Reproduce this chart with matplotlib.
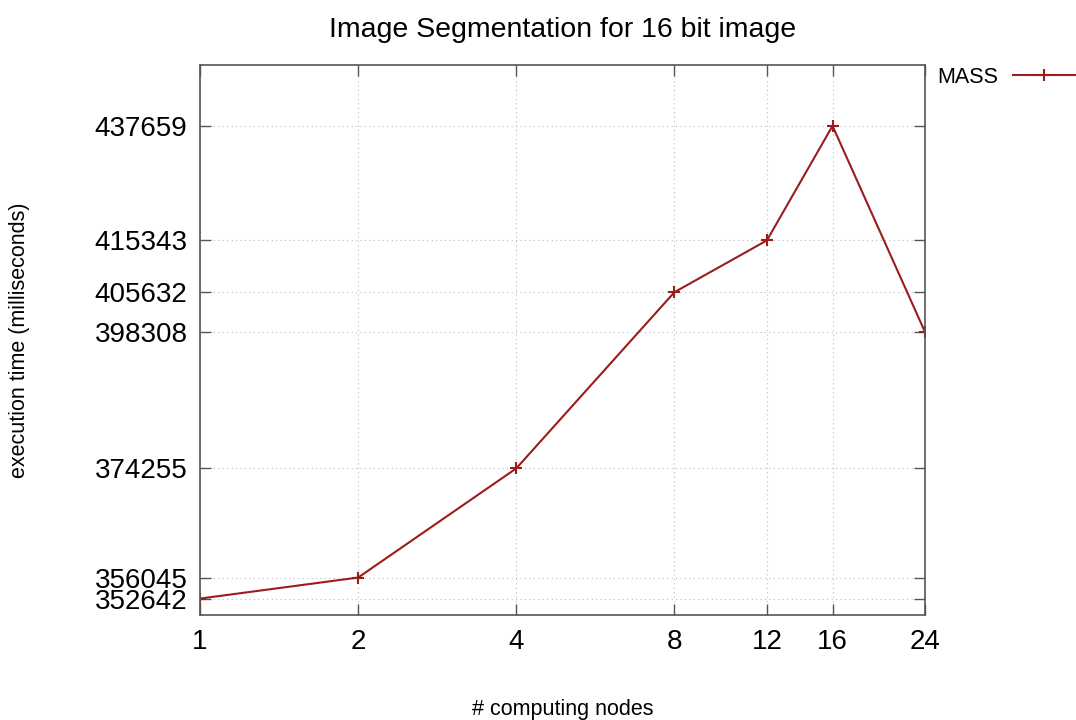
import matplotlib
matplotlib.use("Agg")
import matplotlib.pyplot as plt
from matplotlib.ticker import FixedLocator, NullLocator

plt.rcParams['font.family'] = ['Liberation Sans', 'DejaVu Sans']

## data
nodes = [1, 2, 4, 8, 12, 16, 24]
exec_time = [352642, 356045, 374255, 405632, 415343, 437659, 398308]

line_color = '#9b1c1c'

fig = plt.figure(figsize=(10.76, 7.2), dpi=100)
ax = fig.add_axes([0.1859, 0.1458, 0.6738, 0.7639])

ax.plot(nodes, exec_time, color=line_color, lw=1.5, marker='+',
        markersize=9, markeredgewidth=1.5, label='MASS')

ax.set_xscale('log')
ax.set_yscale('log')
ax.set_xlim(1, 24)
ax.set_ylim(350000, 450000)

ax.xaxis.set_major_locator(FixedLocator(nodes))
ax.xaxis.set_minor_locator(NullLocator())
ax.set_xticklabels([str(n) for n in nodes])
ax.yaxis.set_major_locator(FixedLocator(sorted(exec_time)))
ax.yaxis.set_minor_locator(NullLocator())
ax.set_yticklabels([str(v) for v in sorted(exec_time)])

ax.tick_params(direction='in', length=8, width=1, color='#555555',
               labelsize=20, top=True, right=True, pad=10)
ax.tick_params(axis='y', pad=9)

ax.grid(True, linestyle=(0, (1, 3)), color='#bbbbbb', lw=0.8)
for s in ax.spines.values():
    s.set_color('#555555')
    s.set_linewidth(1.2)

ax.set_title('Image Segmentation for 16 bit image', fontsize=20.5, pad=20)
ax.set_xlabel('# computing nodes', fontsize=15.5)
ax.set_ylabel('execution time (milliseconds)', fontsize=15.5)
ax.xaxis.set_label_coords(0.5, -0.152)
ax.yaxis.set_label_coords(-0.234, 0.5)

ax.legend(loc='center left', bbox_to_anchor=(1.0, 0.978), frameon=False,
          fontsize=15.5, markerfirst=False, handlelength=2.9,
          handletextpad=0.7, borderaxespad=0.15)

fig.savefig('out.png', dpi=100)
